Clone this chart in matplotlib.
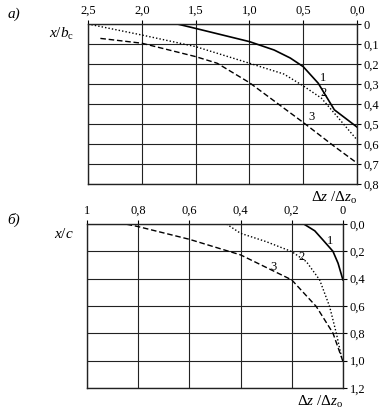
import matplotlib
matplotlib.use("Agg")
import matplotlib.pyplot as plt

plt.rcParams['font.family'] = ['Liberation Serif', 'DejaVu Serif']
plt.rcParams['mathtext.fontset'] = 'custom'
plt.rcParams['mathtext.rm'] = 'Liberation Serif'
plt.rcParams['mathtext.it'] = 'Liberation Serif:italic'
plt.rcParams['mathtext.bf'] = 'Liberation Serif:bold'

# ---- panel a data ----
a_xticks = [2.5, 2.0, 1.5, 1.0, 0.5, 0.0]
a_xticklabels = ["2,5", "2,0", "1,5", "1,0", "0,5", "0,0"]
a_yticks = [0, 0.1, 0.2, 0.3, 0.4, 0.5, 0.6, 0.7, 0.8]
a_yticklabels = ["0", "0,1", "0,2", "0,3", "0,4", "0,5", "0,6", "0,7", "0,8"]

a1_x = [1.67, 1.5, 1.25, 1.0, 0.77, 0.62, 0.5, 0.36, 0.21, 0.0]
a1_y = [0.0, 0.022, 0.055, 0.088, 0.13, 0.17, 0.213, 0.296, 0.429, 0.515]
a2_x = [2.5, 2.0, 1.5, 1.0, 0.68, 0.5, 0.33, 0.21, 0.0]
a2_y = [0.0, 0.055, 0.113, 0.196, 0.25, 0.309, 0.371, 0.446, 0.579]
a3_x = [2.385, 2.0, 1.5, 1.3, 1.0, 0.5, 0.21, 0.0]
a3_y = [0.072, 0.096, 0.163, 0.196, 0.293, 0.492, 0.612, 0.695]

# ---- panel b data ----
b_xticks = [1.0, 0.8, 0.6, 0.4, 0.2, 0.0]
b_xticklabels = ["1", "0,8", "0,6", "0,4", "0,2", "0"]
b_yticks = [0.0, 0.2, 0.4, 0.6, 0.8, 1.0, 1.2]
b_yticklabels = ["0,0", "0,2", "0,4", "0,6", "0,8", "1,0", "1,2"]

b1_x = [0.153, 0.11, 0.078, 0.039, 0.019, 0.0]
b1_y = [0.0, 0.05, 0.117, 0.2, 0.287, 0.409]
b2_x = [0.455, 0.4, 0.3, 0.2, 0.143, 0.091, 0.052, 0.026, 0.006, 0.0]
b2_y = [0.0, 0.068, 0.129, 0.202, 0.275, 0.409, 0.604, 0.798, 0.969, 1.0]
b3_x = [0.91, 0.85, 0.8, 0.6, 0.4, 0.2, 0.104, 0.039, 0.0]
b3_y = [0.0, 0.0, 0.019, 0.112, 0.226, 0.409, 0.604, 0.798, 1.005]

fig = plt.figure(figsize=(3.82, 4.11), dpi=100)

def style(ax, xt, xtl, yt, ytl, xlim, ylim):
    ax.set_xlim(*xlim)
    ax.set_ylim(*ylim)
    ax.xaxis.tick_top()
    ax.yaxis.tick_right()
    ax.set_xticks(xt)
    ax.set_xticklabels(xtl)
    ax.set_yticks(yt)
    ax.set_yticklabels(ytl)
    ax.tick_params(length=3, width=0.8, labelsize=9, pad=2, direction='out')
    ax.grid(True, color='#222222', linewidth=0.8)
    for s in ax.spines.values():
        s.set_linewidth(1.0)
        s.set_color('#222222')

axa = fig.add_axes([0.2304, 0.5523, 0.704, 0.3893])
style(axa, a_xticks, a_xticklabels, a_yticks, a_yticklabels, (2.5, 0.0), (0.8, 0.0))
axa.plot(a1_x, a1_y, color='black', lw=1.2, ls='-')
axa.plot(a2_x, a2_y, color='black', lw=1.0, ls=(0, (1, 1.5)))
axa.plot(a3_x, a3_y, color='black', lw=1.0, ls=(0, (4, 2)))
axa.text(0.34, 0.285, "1", fontsize=9)
axa.text(0.34, 0.36, "2", fontsize=9)
axa.text(0.45, 0.48, "3", fontsize=9)
axa.text(-0.05, 1.0 - 10/160, "$x/b_{\\mathrm{c}}$", transform=axa.transAxes,
         ha='right', va='center', fontsize=11)
axa.text(1.0, -0.035, "$\\Delta z\\ /\\Delta z_{\\mathrm{o}}$", transform=axa.transAxes,
         ha='right', va='top', fontsize=11)
fig.text(0.02, 0.965, "а)", fontsize=11, style='italic', va='center')

axb = fig.add_axes([0.2277, 0.056, 0.670, 0.399])
style(axb, b_xticks, b_xticklabels, b_yticks, b_yticklabels, (1.0, 0.0), (1.2, 0.0))
axb.plot(b1_x, b1_y, color='black', lw=1.2, ls='-')
axb.plot(b2_x, b2_y, color='black', lw=1.0, ls=(0, (1, 1.5)))
axb.plot(b3_x, b3_y, color='black', lw=1.0, ls=(0, (4, 2)))
axb.text(0.062, 0.145, "1", fontsize=9)
axb.text(0.175, 0.265, "2", fontsize=9)
axb.text(0.285, 0.34, "3", fontsize=9)
axb.text(-0.05, 1.0 - 10/164, "$x/c$", transform=axb.transAxes,
         ha='right', va='center', fontsize=11)
axb.text(1.0, -0.035, "$\\Delta z\\ /\\Delta z_{\\mathrm{o}}$", transform=axb.transAxes,
         ha='right', va='top', fontsize=11)
fig.text(0.02, 0.465, "б)", fontsize=11, style='italic', va='center')

fig.savefig("out.png", dpi=100)
